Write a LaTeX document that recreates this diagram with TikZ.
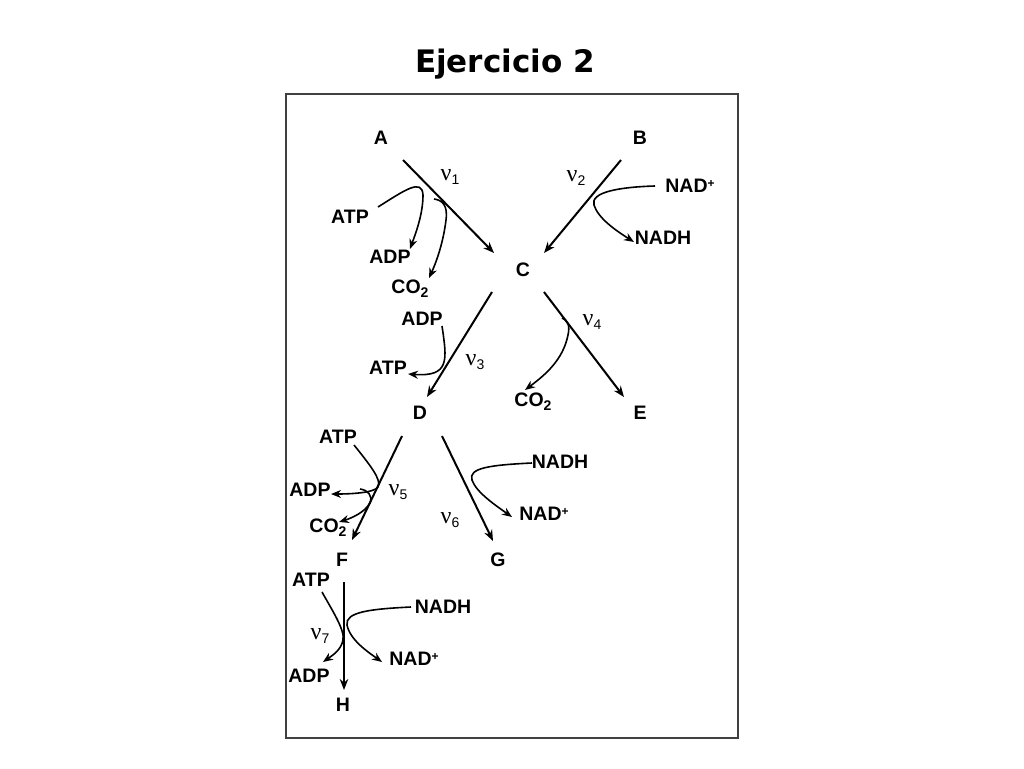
\documentclass[tikz,border=0pt]{standalone}
\usepackage{fontspec}
\setmainfont{Liberation Sans}
\newfontfamily\titlefont{DejaVu Sans}
\newfontfamily\greekfont{Liberation Serif}
\usetikzlibrary{arrows.meta}
\tikzset{
  lbl/.style={font=\fontsize{19.5}{19.5}\selectfont\bfseries, inner sep=0pt},
  nu/.style={font=\fontsize{24}{24}\selectfont, inner sep=0pt},
  rx/.style={line width=2pt, -{Stealth[length=11pt,width=8.5pt]}},
  side/.style={line width=1.6pt, -{Stealth[length=10pt,width=8pt]}},
}
\newcommand{\nulab}[1]{{\greekfont ν}\raisebox{-0.3ex}{\fontsize{14}{14}\selectfont #1}}
\newcommand{\plus}{\raisebox{0.55ex}{\fontsize{12}{12}\selectfont +}}
\newcommand{\cotwo}{CO\raisebox{-0.4ex}{\fontsize{14}{14}\selectfont 2}}
\begin{document}
\begin{tikzpicture}[x=1pt,y=-1pt]
\useasboundingbox (0,0) rectangle (1024,768);
\node[font=\titlefont\fontsize{31}{31}\selectfont\bfseries, inner sep=0pt] (title) at (505,64) {Ejercicio 2};
\draw[line width=1.2pt, black!75] (286,94) rectangle (738,738);

% metabolites
\node[lbl] (A) at (381,138) {A};
\node[lbl] (B) at (640,138) {B};
\node[lbl] (C) at (523,270) {C};
\node[lbl] (D) at (420,413) {D};
\node[lbl] (E) at (640,413) {E};
\node[lbl] (F) at (342,560) {F};
\node[lbl] (G) at (498,560) {G};
\node[lbl] (H) at (343,705) {H};

% enzyme labels
\node[nu] (n1) at (450,177) {\nulab{1}};
\node[nu] (n2) at (576,178) {\nulab{2}};
\node[nu] (n3) at (475,362) {\nulab{3}};
\node[nu] (n4) at (592,322) {\nulab{4}};
\node[nu] (n5) at (398,492) {\nulab{5}};
\node[nu] (n6) at (450,520) {\nulab{6}};
\node[nu] (n7) at (320,636) {\nulab{7}};

% main arrows
\coordinate (a1s) at (403,160); \coordinate (a1e) at (494,253);
\coordinate (a2s) at (621,160); \coordinate (a2e) at (544,253);
\coordinate (a3s) at (492,292); \coordinate (a3e) at (427,397);
\coordinate (a4s) at (544,292); \coordinate (a4e) at (624,397);
\coordinate (a5s) at (402,436); \coordinate (a5e) at (352,540);
\coordinate (a6s) at (442,436); \coordinate (a6e) at (493,541);
\coordinate (a7s) at (344,582); \coordinate (a7e) at (344,690);
\draw[rx] (a1s) -- (a1e);
\draw[rx] (a2s) -- (a2e);
\draw[rx] (a3s) -- (a3e);
\draw[rx] (a4s) -- (a4e);
\draw[rx] (a5s) -- (a5e);
\draw[rx] (a6s) -- (a6e);
\draw[rx] (a7s) -- (a7e);

% v1 side reactions
\node[lbl] (atp1) at (350,217) {ATP};
\node[lbl] (adp1) at (390,257) {ADP};
\node[lbl] (co21) at (410,289) {\cotwo};
\coordinate (s1a) at (378,207);
\coordinate (e1a) at (410,249);
\draw[side] (s1a) .. controls (405,190) and (422,178) .. (423,195) .. controls (423,215) and (415,235) .. (e1a);
\coordinate (s1b) at (434,199);
\coordinate (e1b) at (429,278);
\draw[side] (s1b) .. controls (442,200) and (448,205) .. (446,220) .. controls (443,245) and (435,265) .. (e1b);

% v2 side reactions
\node[lbl] (nad2) at (690,186) {NAD\plus};
\node[lbl] (nadh2) at (663,238) {NADH};
\coordinate (s2) at (655,186);
\coordinate (e2) at (634,242);
\draw[side] (s2) .. controls (620,187) and (590,192) .. (594,205) .. controls (598,218) and (615,230) .. (e2);

% v3 side reactions
\node[lbl] (adp3) at (422,319) {ADP};
\node[lbl] (atp3) at (388,368) {ATP};
\coordinate (s3) at (442,326);
\coordinate (e3) at (408,374);
\draw[side] (s3) .. controls (447,360) and (450,377) .. (e3);

% v4 side reactions
\node[lbl] (co24) at (533,402) {\cotwo};
\coordinate (s4) at (562,318);
\coordinate (e4) at (525,390);
\draw[side] (s4) .. controls (568,320) and (570,326) .. (568,335) .. controls (563,360) and (545,375) .. (e4);

% v5 side reactions
\node[lbl] (atp5) at (338,437) {ATP};
\node[lbl] (adp5) at (310,490) {ADP};
\node[lbl] (co25) at (328,528) {\cotwo};
\coordinate (s5a) at (354,445);
\coordinate (e5a) at (331,494);
\draw[side] (s5a) .. controls (370,465) and (382,480) .. (378,487) .. controls (374,493) and (350,494) .. (e5a);
\coordinate (s5b) at (360,489);
\coordinate (e5b) at (339,522);
\draw[side] (s5b) .. controls (368,490) and (373,496) .. (370,503) .. controls (365,512) and (352,518) .. (e5b);

% v6 side reactions
\node[lbl] (nadh6) at (560,462) {NADH};
\node[lbl] (nad6) at (544,514) {NAD\plus};
\coordinate (s6) at (532,463);
\coordinate (e6) at (512,517);
\draw[side] (s6) .. controls (490,465) and (468,468) .. (472,480) .. controls (476,492) and (495,505) .. (e6);

% v7 side reactions
\node[lbl] (atp7) at (311,580) {ATP};
\node[lbl] (adp7) at (309,676) {ADP};
\node[lbl] (nadh7) at (443,607) {NADH};
\node[lbl] (nad7) at (414,659) {NAD\plus};
\coordinate (s7a) at (322,592);
\coordinate (e7a) at (323,662);
\draw[side] (s7a) .. controls (332,610) and (345,630) .. (343,640) .. controls (341,650) and (333,655) .. (e7a);
\coordinate (s7b) at (411,607);
\coordinate (e7b) at (382,662);
\draw[side] (s7b) .. controls (370,609) and (345,612) .. (347,625) .. controls (350,640) and (368,652) .. (e7b);
\end{tikzpicture}
\end{document}
